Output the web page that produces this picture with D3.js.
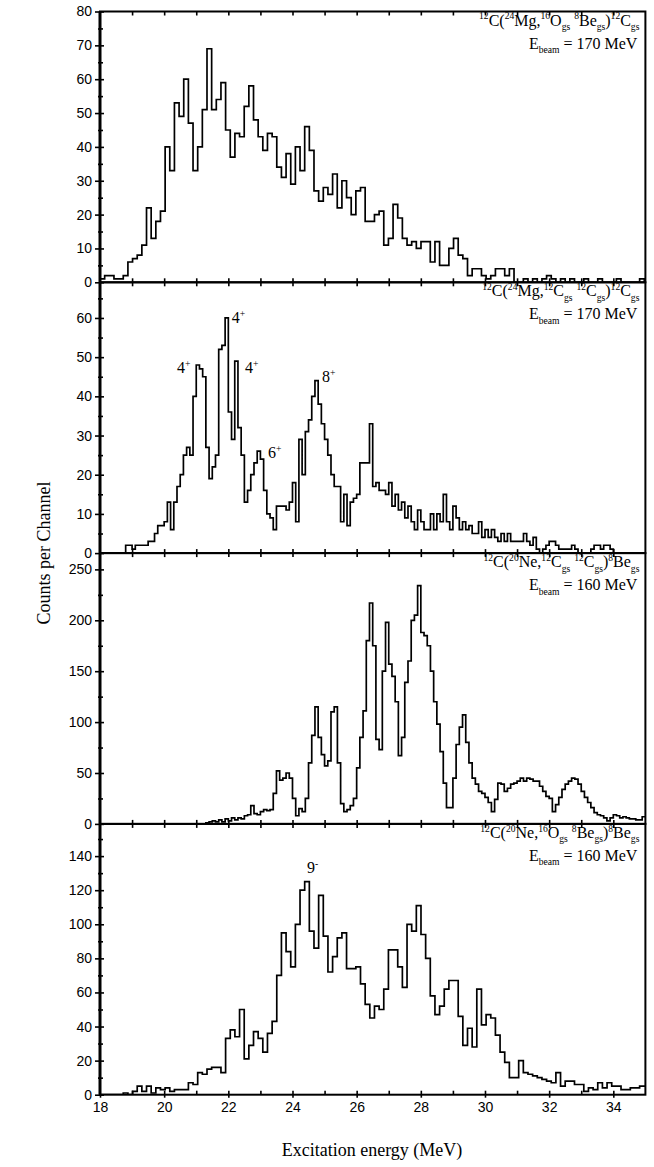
<!DOCTYPE html>
<html>
<head>
<meta charset="utf-8">
<script src="https://cdn.jsdelivr.net/npm/d3@7"></script>
<style>
  body { margin: 0; background: #fff; }
  text { font-family: "Liberation Serif", "Times New Roman", serif; fill: #000; }
  .ylab text, .xlab text { font-family: "Liberation Sans", Arial, sans-serif; font-size: 14px; }
</style>
</head>
<body>
<div id="chart"></div>
<script>
// ---- data ----
// spectra: counts per channel, bins start at 18 MeV
const binStart = 18;
const binWidths = [0.145, 0.1, 0.1, 0.145];

const countsMgO = [
  1,2,2,1,1,2,6,7,8,11, 22,13,18,21,40,33,53,49,60,47,
  33,40,51,69,51,54,59,45,37,44, 43,52,58,48,43,39,44,43,34,31,
  38,29,40,33,46,39,27,24,28,26, 32,22,30,25,20,27,28,18,18,20,
  21,11,13,23,19,13,11,12,10,12, 12,6,12,5,5,10,13,8,7,2,
  4,4,2,1,2,4,4,2,4,0, 0,1,0,1,0,1,2,1,0,1,
  0,1,0,0,1,0,0,1,0,0, 0,1,0,0,0,0,1,0
];
const countsMgC = [
  0,0,0,0,0,0,0,0,2,2, 1,2,2,2,2,3,3,5,7,7,
  8,13,6,13,17,20,25,27,25,40, 48,47,45,27,19,22,25,52,53,60,
  36,29,49,32,25,13,16,20,23,26, 24,16,10,9,6,12,12,12,11,13,
  18,8,29,20,31,34,40,44,38,33, 29,25,20,17,17,8,15,7,13,14,
  15,23,23,23,33,17,18,16,16,15, 18,12,15,11,13,9,12,8,6,11,
  8,6,6,10,6,10,8,15,8,6, 12,9,6,8,6,7,5,5,8,4,
  6,4,6,4,3,5,3,5,3,3, 3,3,5,3,2,4,1,0,1,2,
  3,3,2,1,1,1,1,2,1,0, 0,0,0,1,2,2,1,2,2,1,
  0,0,0,0,0,0,0,0,0,0
];
const countsNeC = [
  0,0,0,0,0,0,0,0,0,0, 0,0,0,0,0,0,0,0,0,0,
  0,0,0,0,0,0,0,0,0,0, 0,0,0,1,2,3,2,4,2,5,
  3,6,4,6,5,8,9,18,10,9, 12,14,13,14,30,52,43,45,50,45,
  25,8,15,12,25,60,87,115,85,68, 57,62,110,115,60,20,12,14,18,25,
  55,85,111,180,217,175,83,73,150,198, 157,145,120,67,85,139,160,200,205,234,
  188,185,175,150,120,98,71,40,16,16, 45,78,95,107,80,60,45,39,32,30,
  26,21,12,24,40,39,32,35,39,40, 42,45,42,45,44,42,42,37,32,27,
  25,12,19,26,34,39,42,45,44,39, 32,26,21,16,11,9,8,6,3,6,
  9,8,6,7,6,5,5,4,4,7
];
const countsNeO = [
  0,0,0,0,0,1,0,2,5,2, 5,1,4,3,4,2,3,3,3,7,
  6,13,12,15,16,16,13,33,38,34, 50,21,29,37,33,25,36,43,70,95,
  84,75,100,120,125,96,86,117,93,72, 81,92,95,74,74,75,65,53,45,52,
  50,62,85,85,75,63,100,96,111,94, 80,58,47,52,62,67,67,46,29,39,
  28,62,41,47,45,35,25,19,10,10, 20,13,12,11,10,9,8,7,13,5,
  8,8,6,6,2,4,3,7,4,7, 5,5,3,3,4,4,5,5
];

const reactions = [
  "^{12}C(^{24}Mg,^{16}O_{gs} ^{8}Be_{gs})^{12}C_{gs}",
  "^{12}C(^{24}Mg,^{12}C_{gs} ^{12}C_{gs})^{12}C_{gs}",
  "^{12}C(^{20}Ne,^{12}C_{gs} ^{12}C_{gs})^{8}Be_{gs}",
  "^{12}C(^{20}Ne,^{16}O_{gs} ^{8}Be_{gs})^{8}Be_{gs}"
];
const beamLabels = ["E_{beam} = 170 MeV", "E_{beam} = 170 MeV", "E_{beam} = 160 MeV", "E_{beam} = 160 MeV"];

const yTop = [80, 69.1, 266, 158.9];
const yMajorTicks = [
  [0,10,20,30,40,50,60,70,80],
  [0,10,20,30,40,50,60],
  [0,50,100,150,200,250],
  [0,20,40,60,80,100,120,140]
];
const yMinorTicks = [
  [5,15,25,35,45,55,65,75],
  [5,15,25,35,45,55,65],
  [25,75,125,175,225],
  [10,30,50,70,90,110,130,150]
];
const xTicks = [19,20,21,22,23,24,25,26,27,28,29,30,31,32,33,34];
const xTickLabels = [18,20,22,24,26,28,30,32,34];

// spin assignments: panel, energy (MeV), counts at label baseline
const spinPanel = [1, 1, 1, 1, 1, 3];
const spinE = [20.40, 22.11, 22.52, 23.24, 24.92, 24.45];
const spinN = [45.9, 58.6, 45.9, 24.2, 43.6, 129.9];
const spinText = ["4^{+}", "4^{+}", "4^{+}", "6^{+}", "8^{+}", "9^{-}"];

// ---- layout ----
const width = 654, height = 1167;
const plotLeft = 100, plotRight = 645.4;
const panelTop = 11.5, panelH = 270.8;

const svg = d3.select("#chart")
  .append("svg")
  .attr("width", width)
  .attr("height", height);

const x = d3.scaleLinear().domain([18, 35]).range([plotLeft, plotRight]);

const spectra = [countsMgO, countsMgC, countsNeC, countsNeO];

// super/subscript helper
function richText(sel, str, size) {
  const parts = str.match(/\^\{[^}]*\}|_\{[^}]*\}|[^\^_]+/g);
  let off = 0;
  parts.forEach(p => {
    let shift = 0, fs = size, txt = p;
    if (p[0] === "^") { shift = -0.38 * size; fs = size * 0.6; txt = p.slice(2, -1); }
    else if (p[0] === "_") { shift = 0.28 * size; fs = size * 0.6; txt = p.slice(2, -1); }
    sel.append("tspan")
      .attr("dy", shift - off)
      .attr("font-size", fs)
      .text(txt);
    off = shift;
  });
}

const ys = [];

spectra.forEach((counts, k) => {
  const top = panelTop + k * panelH, bottom = top + panelH;
  const y = d3.scaleLinear().domain([0, yTop[k]]).range([bottom, top]);
  ys.push(y);
  const g = svg.append("g");

  g.append("clipPath").attr("id", "clip" + k)
    .append("rect")
    .attr("x", plotLeft).attr("y", top)
    .attr("width", plotRight - plotLeft).attr("height", panelH);

  // histogram
  const w = binWidths[k];
  const pts = counts.map((c, i) => [binStart + i * w, c]);
  pts.push([binStart + counts.length * w, counts[counts.length - 1]]);
  const line = d3.line()
    .x(d => x(d[0]))
    .y(d => y(d[1]))
    .curve(d3.curveStepAfter);
  g.append("path")
    .datum(pts)
    .attr("clip-path", "url(#clip" + k + ")")
    .attr("d", line)
    .attr("fill", "none")
    .attr("stroke", "#000")
    .attr("stroke-width", 1.7);

  // y axis: major ticks cross the axis line, minor ticks smaller
  g.append("g").attr("class", "ylab")
    .attr("transform", `translate(${plotLeft},0)`)
    .call(d3.axisLeft(y).tickValues(yMajorTicks[k]).tickSize(5).tickPadding(3).tickFormat(d3.format("d")))
    .call(a => a.select(".domain").remove());
  g.append("g")
    .attr("transform", `translate(${plotLeft},0)`)
    .call(d3.axisRight(y).tickValues(yMajorTicks[k]).tickSize(4).tickFormat(""))
    .call(a => a.select(".domain").remove());
  g.append("g")
    .attr("transform", `translate(${plotLeft},0)`)
    .call(d3.axisLeft(y).tickValues(yMinorTicks[k]).tickSize(2).tickFormat(""))
    .call(a => a.select(".domain").remove());
  g.append("g")
    .attr("transform", `translate(${plotLeft},0)`)
    .call(d3.axisRight(y).tickValues(yMinorTicks[k]).tickSize(3).tickFormat(""))
    .call(a => a.select(".domain").remove());

  // x ticks pointing into the panel, top and bottom
  g.append("g")
    .attr("transform", `translate(0,${top})`)
    .call(d3.axisBottom(x).tickValues(xTicks).tickSize(4).tickFormat(""))
    .call(a => a.select(".domain").remove());
  g.append("g")
    .attr("transform", `translate(0,${bottom})`)
    .call(d3.axisTop(x).tickValues(xTicks).tickSize(4).tickFormat(""))
    .call(a => a.select(".domain").remove());

  // frame
  g.append("rect")
    .attr("x", plotLeft).attr("y", top)
    .attr("width", plotRight - plotLeft).attr("height", panelH)
    .attr("fill", "none").attr("stroke", "#000").attr("stroke-width", 2);

  // reaction labels
  const t1 = g.append("text")
    .attr("x", plotRight - 6).attr("y", top + 14)
    .attr("text-anchor", "end").attr("font-size", 16)
    .style("white-space", "pre");
  richText(t1, reactions[k], 16);
  const t2 = g.append("text")
    .attr("x", plotRight - 8).attr("y", top + 37)
    .attr("text-anchor", "end").attr("font-size", 16)
    .style("white-space", "pre");
  richText(t2, beamLabels[k], 16);
});

svg.selectAll(".tick line").attr("stroke-width", 1.6);

// thick left axis line
svg.append("line")
  .attr("x1", plotLeft).attr("x2", plotLeft)
  .attr("y1", panelTop).attr("y2", panelTop + 4 * panelH)
  .attr("stroke", "#000").attr("stroke-width", 3);

// bottom energy axis labels
const bottomY = panelTop + 4 * panelH;
svg.append("g").attr("class", "xlab")
  .attr("transform", `translate(0,${bottomY})`)
  .call(d3.axisBottom(x).tickValues(xTickLabels).tickSize(3).tickPadding(4).tickFormat(d3.format("d")))
  .call(a => a.select(".domain").remove())
  .call(a => a.selectAll("line").attr("stroke-width", 1.6));

// spin labels
spinText.forEach((s, i) => {
  const t = svg.append("text")
    .attr("x", x(spinE[i]))
    .attr("y", ys[spinPanel[i]](spinN[i]))
    .attr("font-size", 16);
  richText(t, s, 16);
});

// axis titles
svg.append("text")
  .attr("transform", `translate(50,${panelTop + 2 * panelH}) rotate(-90)`)
  .attr("text-anchor", "middle")
  .attr("font-size", 18)
  .text("Counts per Channel");

svg.append("text")
  .attr("x", 372).attr("y", 1156)
  .attr("text-anchor", "middle")
  .attr("font-size", 18)
  .text("Excitation energy (MeV)");
</script>
</body>
</html>
